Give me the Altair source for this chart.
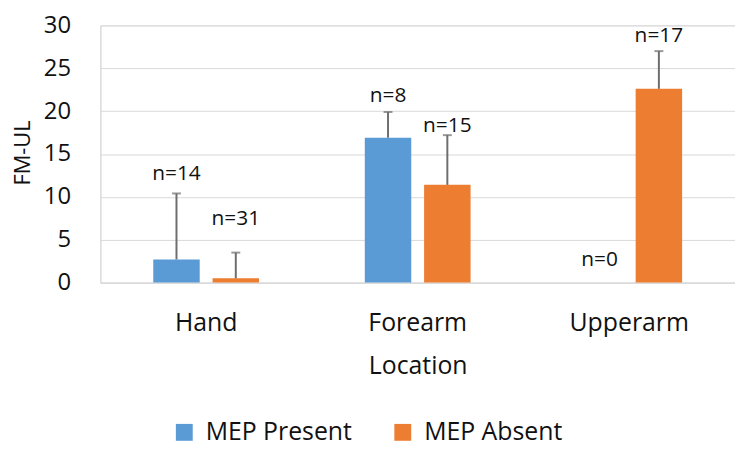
import altair as alt
import pandas as pd

categories = ["Hand", "Forearm", "Upperarm"]
groups = ["MEP Present", "MEP Absent"]
present_mean = [2.7, 16.9, None]
present_sd = [7.7, 3.0, None]
absent_mean = [0.5, 11.4, 22.6]
absent_sd = [3.0, 5.8, 4.4]
present_n = [14, 8, 0]
absent_n = [31, 15, 17]
present_label_y = [12.7, 21.8, 2.6]
absent_label_y = [7.4, 18.3, 28.7]

rows = []
for i, c in enumerate(categories):
    for g, m, s, n, ly in [
        ("MEP Present", present_mean[i], present_sd[i], present_n[i], present_label_y[i]),
        ("MEP Absent", absent_mean[i], absent_sd[i], absent_n[i], absent_label_y[i]),
    ]:
        rows.append({
            "cat": c, "group": g, "mean": m,
            "top": (m + s) if m is not None else None,
            "label": f"n={n}", "ly": ly,
        })
df = pd.DataFrame(rows)

FONT = "Open Sans"

x = alt.X("cat:N", sort=categories,
          scale=alt.Scale(paddingInner=0.5, paddingOuter=0.25),
          axis=alt.Axis(title="Location", labelAngle=0, labelFontSize=25,
                        labelBaseline="middle", labelPadding=40, ticks=False,
                        domainColor="#D9D9D9", titleFontSize=25, titleFontWeight="normal",
                        titleBaseline="middle", titleY=84, labelColor="#111", titleColor="#111"))
xo = alt.XOffset("group:N", sort=groups,
                 scale=alt.Scale(paddingInner=0.2167, paddingOuter=0))
yscale = alt.Scale(domain=[0, 30])

base = alt.Chart(df)

bars = base.mark_bar().encode(
    x=x, xOffset=xo,
    y=alt.Y("mean:Q", scale=yscale,
            axis=alt.Axis(title="FM-UL", values=[0, 5, 10, 15, 20, 25, 30],
                          labelFontSize=24, labelPadding=30, ticks=False,
                          domainColor="#D9D9D9", gridColor="#D9D9D9",
                          titleFontSize=22, titleFontWeight="normal",
                          titleX=-78, titleY=128, titleBaseline="middle",
                          titleAlign="center", labelColor="#111", titleColor="#111")),
    color=alt.Color("group:N", sort=groups,
                    scale=alt.Scale(domain=groups, range=["#5B9BD5", "#ED7D31"]),
                    legend=alt.Legend(title=None, orient="none", direction="horizontal",
                                      legendX=72, legendY=397, symbolType="square",
                                      symbolSize=289, symbolStrokeWidth=0,
                                      labelFontSize=25, labelOffset=9, columnPadding=38,
                                      padding=0, labelColor="#111")),
)

err = base.mark_rule(color="#6E6E6E", strokeWidth=2).encode(
    x=x, xOffset=xo, y=alt.Y("mean:Q", scale=yscale), y2="top:Q")

caps = base.mark_tick(color="#6E6E6E", thickness=2, size=9, orient="horizontal").encode(
    x=x, xOffset=xo, y=alt.Y("top:Q", scale=yscale))

labels = base.mark_text(fontSize=21, baseline="middle", color="#111", font=FONT).encode(
    x=x, xOffset=xo, y=alt.Y("ly:Q", scale=yscale), text="label:N")

chart = (bars + err + caps + labels).properties(
    width=639, height=259,
    autosize=alt.AutoSizeParams(type="pad"),
    padding={"left": 4, "top": 4, "right": 0, "bottom": 0},
).configure_view(stroke=None).configure(font=FONT)

chart.save("out.html", embed_options={"renderer": "svg", "actions": False})
